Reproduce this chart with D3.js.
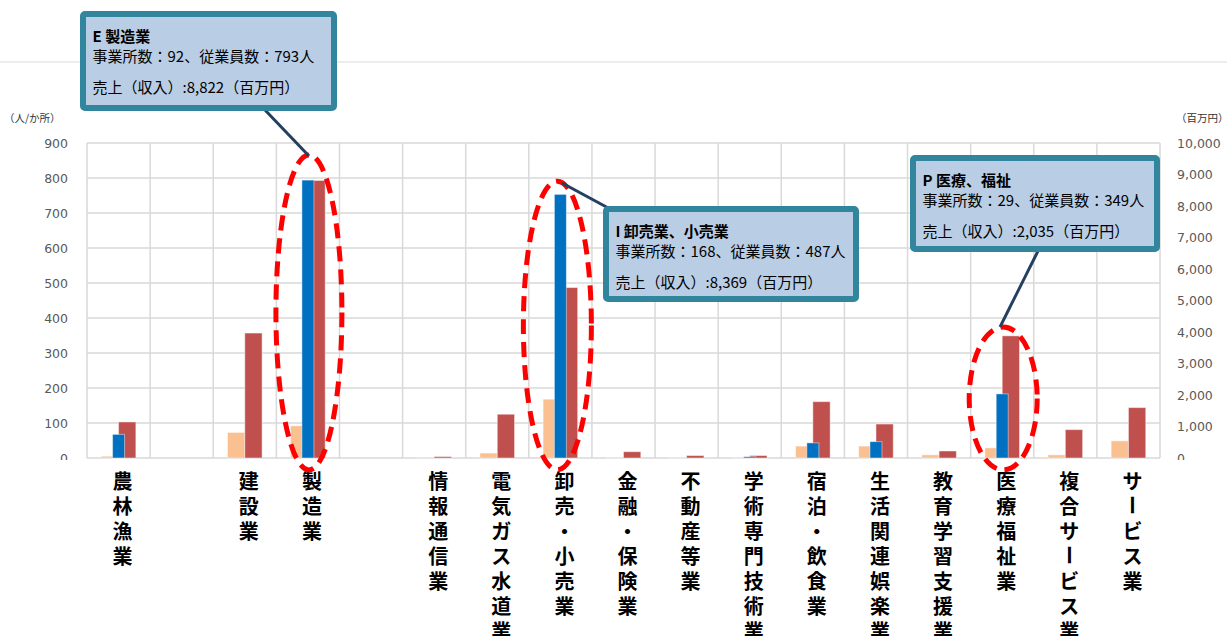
<!DOCTYPE html>
<html>
<head>
<meta charset="utf-8">
<script src="https://cdn.jsdelivr.net/npm/d3@7"></script>
<style>
  html, body { margin: 0; padding: 0; background: #fff; }
  svg { display: block; }
</style>
</head>
<body>
<svg id="chart" width="1227" height="636"></svg>
<script>
// 業種別の事業所数・従業員数（左軸）と売上（右軸）
const categories = ["農林漁業", "", "建設業", "製造業", "", "情報通信業", "電気ガス水道業",
  "卸売・小売業", "金融・保険業", "不動産等業", "学術専門技術業", "宿泊・飲食業",
  "生活関連娯楽業", "教育学習支援業", "医療福祉業", "複合サービス業", "サービス業"];
const establishments = [5, null, 73, 92, null, 2, 14, 168, 1, 1, 1, 34, 34, 9, 29, 9, 49];   // 事業所数
const employees      = [103, null, 357, 793, null, 4, 125, 487, 18, 7, 7, 161, 97, 20, 349, 81, 144]; // 従業員数（人）
const sales          = [750, null, null, 8822, null, null, null, 8369, null, null, 40, 480, 520, null, 2035, null, null]; // 売上（百万円）

const leftTicks  = [0, 100, 200, 300, 400, 500, 600, 700, 800, 900];
const rightTicks = [0, 1000, 2000, 3000, 4000, 5000, 6000, 7000, 8000, 9000, 10000];

// 注目業種の吹き出し
const callouts = [
  { cat: 3, title: "E  製造業", line2: "事業所数：92、従業員数：793人", line3: "売上（収入）:8,822（百万円）",
    top: 866, bottom: -34, rx: 33, dx: 1,
    box: [80, 11, 257, 100], lead: [[265, 110], [309, 156]] },
  { cat: 7, title: "I  卸売業、小売業", line2: "事業所数：168、従業員数：487人", line3: "売上（収入）:8,369（百万円）",
    top: 791, bottom: -34, rx: 34, dx: -3,
    box: [603, 206, 256, 96], lead: [[562, 183], [612, 210]] },
  { cat: 14, title: "P 医療、福祉", line2: "事業所数：29、従業員数：349人", line3: "売上（収入）:2,035（百万円）",
    top: 374, bottom: -34, rx: 34, dx: 1,
    box: [910, 155, 250, 97], lead: [[1038, 251], [1000, 327]] }
];

const svg = d3.select("#chart");
const W = 1227, H = 636;
const plot = { left: 87, right: 1160, top: 143, bottom: 458 };

svg.append("rect").attr("width", W).attr("height", H).attr("fill", "#fff");
// 上部の区切り線
svg.append("line").attr("x1", 0).attr("x2", W).attr("y1", 62).attr("y2", 62)
  .attr("stroke", "#D9D9D9").attr("stroke-width", 1.2);

const x = d3.scaleBand().domain(d3.range(categories.length)).range([plot.left, plot.right]).padding(0);
const bw = x.bandwidth();
const yL = d3.scaleLinear().domain([0, 900]).range([plot.bottom, plot.top]);
const yR = d3.scaleLinear().domain([0, 10000]).range([plot.bottom, plot.top]);

const groupW = bw * 0.548;
const xInner = d3.scaleBand().domain(["est", "emp"]).range([0, groupW]);
const blueW = bw * 0.19;

// グリッド
const grid = svg.append("g").attr("stroke", "#D9D9D9").attr("stroke-width", 1.5);
grid.selectAll("line.h").data(leftTicks).join("line").attr("class", "h")
  .attr("x1", plot.left).attr("x2", plot.right)
  .attr("y1", d => yL(d)).attr("y2", d => yL(d));
grid.selectAll("line.v").data(d3.range(categories.length + 1)).join("line").attr("class", "v")
  .attr("x1", i => plot.left + i * bw).attr("x2", i => plot.left + i * bw)
  .attr("y1", plot.top).attr("y2", plot.bottom);

// 軸ラベル（下端は隠れる）
svg.append("clipPath").attr("id", "tickclip").append("rect")
  .attr("x", 0).attr("y", 0).attr("width", W).attr("height", 460);

const axWrapL = svg.append("g").attr("clip-path", "url(#tickclip)");
const axWrapR = svg.append("g").attr("clip-path", "url(#tickclip)");
const axL = axWrapL.append("g").attr("transform", `translate(${plot.left},0)`)
  .call(d3.axisLeft(yL).tickValues(leftTicks).tickSize(0).tickPadding(19).tickFormat(d3.format("d")));
const axR = axWrapR.append("g").attr("transform", `translate(${plot.right},0)`)
  .call(d3.axisRight(yR).tickValues(rightTicks).tickSize(0).tickPadding(17).tickFormat(d3.format(",")));
[axL, axR].forEach(a => {
  a.select(".domain").remove();
  a.selectAll("text").attr("fill", "#595959").style("font-family", "'DejaVu Sans', Verdana, sans-serif")
    .style("font-size", "12.5px");
});

svg.append("text").attr("x", 9).attr("y", 122).text("（人/か所）")
  .attr("fill", "#333").style("font-family", "'Noto Sans CJK JP', sans-serif").style("font-size", "10.5px")
  .attr("dx", -5);
svg.append("text").attr("x", 1180).attr("y", 122).text("（百万円）")
  .attr("fill", "#333").style("font-family", "'Noto Sans CJK JP', sans-serif").style("font-size", "10.5px")
  .attr("dx", -4);

// 棒：事業所数・従業員数（左軸）
const bars = svg.append("g");
const primary = [
  { key: "est", values: establishments, color: "#FAC090" },
  { key: "emp", values: employees, color: "#C0504D" }
];
primary.forEach(s => {
  bars.append("g").selectAll("rect")
    .data(s.values.map((v, i) => ({ i, v })).filter(d => d.v != null && d.v > 0))
    .join("rect")
    .attr("x", d => x(d.i) + bw / 2 - groupW / 2 + xInner(s.key))
    .attr("width", xInner.bandwidth())
    .attr("y", d => yL(d.v))
    .attr("height", d => yL(0) - yL(d.v))
    .attr("fill", s.color)
    .attr("stroke", "rgba(255,255,255,0.45)").attr("stroke-width", 1);
});
// 棒：売上（右軸）
bars.append("g").selectAll("rect")
  .data(sales.map((v, i) => ({ i, v })).filter(d => d.v != null && d.v > 0))
  .join("rect")
  .attr("x", d => x(d.i) + bw / 2 - blueW / 2)
  .attr("width", blueW)
  .attr("y", d => yR(d.v))
  .attr("height", d => yR(0) - yR(d.v))
  .attr("fill", "#0070C0")
  .attr("stroke", "rgba(255,255,255,0.45)").attr("stroke-width", 1);

// 業種名（縦書き、一文字ずつ配置）
const labelG = svg.append("g")
  .style("font-family", "'Noto Sans CJK JP', sans-serif").style("font-weight", "bold").style("font-size", "20px");
categories.forEach((name, i) => {
  const cx = x(i) + bw / 2 + 4;
  Array.from(name).forEach((ch, k) => {
    const cy = 480 + k * 25;
    const t = labelG.append("text")
      .attr("x", cx).attr("y", cy)
      .attr("text-anchor", "middle").attr("dominant-baseline", "central")
      .attr("fill", "#000").text(ch);
    if (ch === "ー") t.attr("transform", `rotate(90,${cx},${cy})`);
  });
});

// 強調の楕円・引出線・吹き出し
const ann = svg.append("g");
callouts.forEach(c => {
  const cx = x(c.cat) + bw / 2 + c.dx;
  const yTop = yL(c.top), yBot = yL(c.bottom);
  ann.append("ellipse")
    .attr("cx", cx).attr("cy", (yTop + yBot) / 2)
    .attr("rx", c.rx).attr("ry", (yBot - yTop) / 2)
    .attr("fill", "none").attr("stroke", "#FF0000").attr("stroke-width", 5)
    .attr("stroke-dasharray", "15 8");
});
callouts.forEach(c => {
  ann.append("line")
    .attr("x1", c.lead[0][0]).attr("y1", c.lead[0][1])
    .attr("x2", c.lead[1][0]).attr("y2", c.lead[1][1])
    .attr("stroke", "#243F60").attr("stroke-width", 3);
});
callouts.forEach(c => {
  const [bx, by, bwid, bh] = c.box;
  const g = ann.append("g");
  g.append("rect")
    .attr("x", bx + 3).attr("y", by + 3).attr("width", bwid - 6).attr("height", bh - 6)
    .attr("rx", 2)
    .attr("fill", "#B9CDE5").attr("stroke", "#31859C").attr("stroke-width", 6);
  const tx = bx + 12.5;
  const font = "'Noto Sans CJK JP', sans-serif";
  g.append("text").attr("x", tx).attr("y", by + 31).text(c.title)
    .style("font-family", font).style("font-size", "15px").style("font-weight", "bold").attr("fill", "#000");
  g.append("text").attr("x", tx).attr("y", by + 51).text(c.line2)
    .style("font-family", font).style("font-size", "15px").attr("fill", "#000");
  g.append("text").attr("x", tx).attr("y", by + 82).text(c.line3)
    .style("font-family", font).style("font-size", "15px").attr("fill", "#000");
});
</script>
</body>
</html>
